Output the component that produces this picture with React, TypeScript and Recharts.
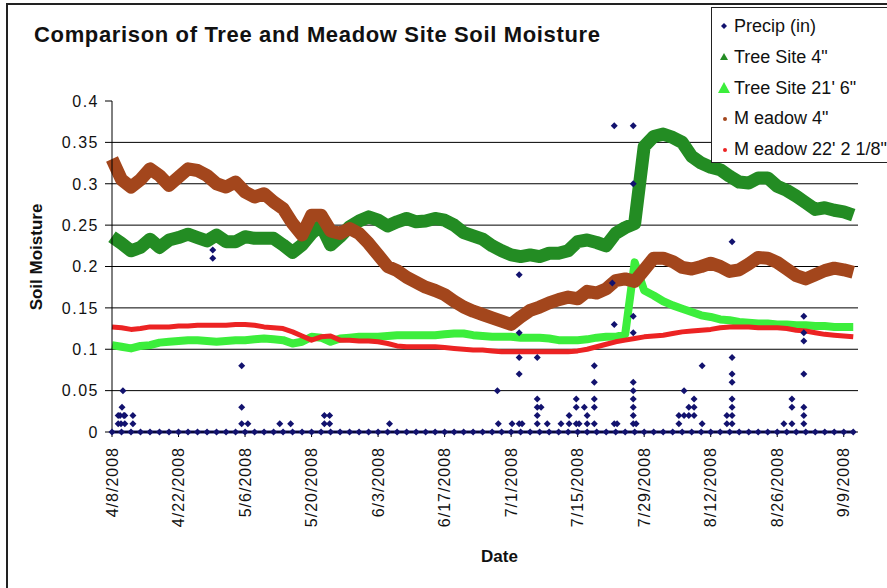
import { ComposedChart, Line, Scatter, XAxis, YAxis, ReferenceLine } from 'recharts';

// days after 4/8/2008 (every 2nd day)
const days = [
  0, 2, 4, 6, 8, 10, 12, 14, 16, 18, 20, 22, 24, 26, 28, 30, 32, 34, 36, 38,
  40, 42, 44, 46, 48, 50, 52, 54, 56, 58, 60, 62, 64, 66, 68, 70, 72, 74, 76, 78,
  80, 82, 84, 86, 88, 90, 92, 94, 96, 98, 100, 102, 104, 106, 108, 110, 112, 114, 116, 118,
  120, 122, 124, 126, 128, 130, 132, 134, 136, 138, 140, 142, 144, 146, 148, 150, 152, 154, 156,
];

const tree4 = [
  0.236, 0.228, 0.219, 0.223, 0.233, 0.223, 0.232, 0.235, 0.239, 0.235, 0.231, 0.238, 0.23, 0.23, 0.236, 0.234, 0.234, 0.234, 0.226, 0.217,
  0.226, 0.24, 0.25, 0.226, 0.236, 0.248, 0.255, 0.26, 0.256, 0.249, 0.254, 0.258, 0.254, 0.255, 0.258, 0.256, 0.25, 0.241, 0.237, 0.233,
  0.225, 0.219, 0.214, 0.212, 0.214, 0.212, 0.216, 0.216, 0.219, 0.23, 0.232, 0.229, 0.225, 0.24, 0.247, 0.252, 0.345, 0.357, 0.36, 0.356,
  0.35, 0.333, 0.325, 0.32, 0.317, 0.309, 0.302, 0.301, 0.307, 0.307, 0.297, 0.292, 0.285, 0.277, 0.269, 0.271, 0.268, 0.266, 0.262,
];

const tree21 = [
  0.105, 0.103, 0.101, 0.104, 0.105, 0.108, 0.109, 0.11, 0.111, 0.111, 0.11, 0.109, 0.11, 0.111, 0.111, 0.112, 0.113, 0.112, 0.111, 0.107,
  0.109, 0.115, 0.114, 0.109, 0.113, 0.114, 0.115, 0.115, 0.115, 0.116, 0.117, 0.117, 0.117, 0.117, 0.117, 0.118, 0.119, 0.119, 0.117, 0.116,
  0.115, 0.115, 0.115, 0.114, 0.114, 0.114, 0.113, 0.111, 0.111, 0.111, 0.112, 0.114, 0.115, 0.115, 0.118, 0.205, 0.171, 0.165, 0.158, 0.153,
  0.149, 0.145, 0.141, 0.139, 0.136, 0.135, 0.133, 0.132, 0.131, 0.131, 0.13, 0.13, 0.129, 0.129, 0.128, 0.128, 0.127, 0.127, 0.127,
];

const meadow4 = [
  0.33, 0.305, 0.296, 0.305, 0.318, 0.31, 0.298, 0.308, 0.318, 0.316, 0.31, 0.3, 0.296, 0.302, 0.29, 0.284, 0.288, 0.278, 0.27, 0.252,
  0.238, 0.262, 0.262, 0.243, 0.24, 0.246, 0.24, 0.228, 0.214, 0.2, 0.195, 0.187, 0.181, 0.175, 0.171, 0.166, 0.158, 0.151, 0.146, 0.142,
  0.138, 0.134, 0.13, 0.139, 0.147, 0.151, 0.156, 0.16, 0.163, 0.161, 0.17, 0.168, 0.173, 0.183, 0.185, 0.182, 0.196, 0.21, 0.21, 0.206,
  0.199, 0.197, 0.2, 0.204, 0.2, 0.194, 0.196, 0.203, 0.211, 0.21, 0.205, 0.197, 0.189, 0.185, 0.19, 0.195, 0.198, 0.196, 0.193,
];

const meadow22 = [
  0.127, 0.126, 0.124, 0.125, 0.127, 0.127, 0.127, 0.128, 0.128, 0.129, 0.129, 0.129, 0.129, 0.13, 0.13, 0.129, 0.127, 0.126, 0.125, 0.121,
  0.116, 0.111, 0.115, 0.116, 0.111, 0.111, 0.11, 0.11, 0.109, 0.107, 0.104, 0.103, 0.103, 0.103, 0.103, 0.102, 0.101, 0.1, 0.099, 0.099,
  0.098, 0.097, 0.097, 0.097, 0.097, 0.097, 0.097, 0.097, 0.097, 0.098, 0.1, 0.103, 0.106, 0.109, 0.111, 0.113, 0.115, 0.116, 0.117, 0.119,
  0.121, 0.122, 0.123, 0.124, 0.126, 0.127, 0.127, 0.127, 0.126, 0.126, 0.126, 0.125, 0.123, 0.122, 0.12, 0.118, 0.117, 0.116, 0.115,
];

// hourly precip readings above zero: [day, inches]
const precipEvents: [number, number][] = [
  [1.3, 0.01], [1.3, 0.02], [1.7, 0.02], [1.9, 0.01], [2.1, 0.03], [2.3, 0.05], [2.5, 0.02], [2.7, 0.01], [2.7, 0.02],
  [4.4, 0.02], [4.4, 0.01],
  [21.2, 0.21], [21.2, 0.22],
  [27.3, 0.08], [27.3, 0.03], [27.3, 0.01], [28.6, 0.01],
  [35.3, 0.01], [37.6, 0.01],
  [44.7, 0.02], [44.7, 0.01], [45.8, 0.02], [45.8, 0.01],
  [58.4, 0.01],
  [81.1, 0.05], [81.3, 0.01], [84.2, 0.01],
  [85.7, 0.19], [85.7, 0.12], [85.7, 0.09], [85.7, 0.07], [85.7, 0.01], [86.3, 0.01],
  [89.5, 0.09], [89.5, 0.04], [89.5, 0.03], [89.5, 0.02], [89.5, 0.01], [90.3, 0.03], [91.6, 0.01],
  [94.5, 0.01], [96.2, 0.02], [96.2, 0.01], [97.7, 0.04], [97.7, 0.03], [97.7, 0.01], [98.3, 0.01],
  [99.4, 0.03], [100, 0.02], [100, 0.01],
  [101.5, 0.08], [101.5, 0.06], [101.5, 0.04], [101.5, 0.03], [101.5, 0.01],
  [105.3, 0.18], [105.7, 0.37], [105.7, 0.13], [105.7, 0.01], [106.3, 0.01],
  [109.7, 0.37], [109.7, 0.3], [109.7, 0.14], [109.7, 0.12], [109.7, 0.06], [109.7, 0.05], [109.7, 0.04],
  [109.7, 0.03], [109.7, 0.02], [109.7, 0.01], [110.3, 0.01],
  [119.3, 0.02], [119.3, 0.01], [120.4, 0.05], [120.4, 0.02], [121.4, 0.03], [121.4, 0.02],
  [122.5, 0.04], [122.5, 0.03], [122.5, 0.02],
  [124.2, 0.08], [124.2, 0.01], [129.4, 0.02], [129.4, 0.01],
  [130.5, 0.23], [130.5, 0.09], [130.5, 0.07], [130.5, 0.06], [130.5, 0.04], [130.5, 0.03], [130.5, 0.02], [130.5, 0.01],
  [141.4, 0.01], [143.1, 0.04], [143.1, 0.03], [143.1, 0.01],
  [145.6, 0.14], [145.6, 0.12], [145.6, 0.11], [145.6, 0.07], [145.6, 0.03], [145.6, 0.02], [145.6, 0.01],
];

const xTickDays = [0, 14, 28, 42, 56, 70, 84, 98, 112, 126, 140, 154];
const xTickLabels = [
  '4/8/2008', '4/22/2008', '5/6/2008', '5/20/2008', '6/3/2008', '6/17/2008',
  '7/1/2008', '7/15/2008', '7/29/2008', '8/12/2008', '8/26/2008', '9/9/2008',
];
const yTicks = [0, 0.05, 0.1, 0.15, 0.2, 0.25, 0.3, 0.35, 0.4];
const yTickLabels = ['0', '0.05', '0.1', '0.15', '0.2', '0.25', '0.3', '0.35', '0.4'];
const gridLines = [0.05, 0.1, 0.15, 0.2, 0.25, 0.3, 0.35];

const C = {
  precip: '#12126e',
  tree4: '#238c23',
  tree21: '#3cee3c',
  meadow4: '#a3461c',
  meadow22: '#ec2323',
};

const FONT = '"Liberation Sans", Arial, sans-serif';

// the sampled days all had zero precip except for the events listed above
const rows = days.map((t, i) => ({
  t,
  precip0: 0,
  tree4: tree4[i],
  tree21: tree21[i],
  meadow4: meadow4[i],
  meadow22: meadow22[i],
}));
const precipRows = precipEvents.map(([t, p]) => ({ t, p }));

const legendItems = [
  { name: 'Precip (in)', color: C.precip, mark: 'diamond' },
  { name: 'Tree Site 4"', color: C.tree4, mark: 'tri' },
  { name: 'Tree Site 21\' 6"', color: C.tree21, mark: 'bigtri' },
  { name: 'M eadow 4"', color: C.meadow4, mark: 'dot' },
  { name: 'M eadow 22\' 2 1/8"', color: C.meadow22, mark: 'dot' },
];

function Diamond(props: any) {
  const { cx, cy } = props;
  if (cx == null || cy == null) return null;
  const r = 3.5;
  return <polygon key={`${cx}-${cy}`} points={`${cx},${cy - r} ${cx + r},${cy} ${cx},${cy + r} ${cx - r},${cy}`} fill={C.precip} />;
}

function XTick({ x, y, payload }: any) {
  const i = xTickDays.indexOf(payload.value);
  const yy = y + 8;
  return (
    <text
      x={x}
      y={yy}
      transform={`rotate(-90 ${x} ${yy})`}
      textAnchor="end"
      dy="0.36em"
      fontSize={16}
      letterSpacing={1}
      fill="#111"
      fontFamily={FONT}
    >
      {xTickLabels[i]}
    </text>
  );
}

function YTick({ x, y, payload }: any) {
  const i = yTicks.indexOf(payload.value);
  return (
    <text x={x - 4} y={y} textAnchor="end" dy="0.36em" fontSize={16} letterSpacing={1.5} fill="#111" fontFamily={FONT}>
      {yTickLabels[i]}
    </text>
  );
}

function LegendMark({ mark, color }: { mark: string; color: string }) {
  return (
    <svg width={14} height={14} style={{ position: 'absolute', left: -17, top: 3 }}>
      {mark === 'diamond' && <polygon points="7,4 10,7 7,10 4,7" fill={color} />}
      {mark === 'tri' && <polygon points="7,3 11,10 3,10" fill={color} />}
      {mark === 'bigtri' && <polygon points="7,1 13,12 1,12" fill={color} />}
      {mark === 'dot' && <circle cx={8} cy={8} r={2} fill={color} />}
    </svg>
  );
}

export default function App() {
  return (
    <div
      style={{
        position: 'fixed',
        left: 0,
        top: 0,
        width: 887,
        height: 588,
        background: '#fff',
        overflow: 'hidden',
        fontFamily: FONT,
      }}
    >
      {/* marco exterior */}
      <div style={{ position: 'absolute', left: 6, top: 3, width: 900, height: 620, border: '2px solid #222' }} />

      <div style={{ position: 'absolute', left: 34, top: 24, fontSize: 22, lineHeight: '22px', fontWeight: 'bold', letterSpacing: 0.65, color: '#111' }}>
        Comparison of Tree and Meadow Site Soil Moisture
      </div>

      <ComposedChart
        width={887}
        height={588}
        data={rows}
        margin={{ top: 101, right: 29, bottom: 66, left: 52 }}
        style={{ position: 'absolute', left: 0, top: 0 }}
      >
        <XAxis
          dataKey="t"
          type="number"
          domain={[0, 157]}
          ticks={xTickDays}
          interval={0}
          tick={<XTick />}
          height={90}
          tickSize={5}
          stroke="#000"
        />
        <YAxis
          type="number"
          domain={[0, 0.4]}
          ticks={yTicks}
          interval={0}
          tick={<YTick />}
          width={60}
          tickSize={7}
          stroke="#000"
        />
        {gridLines.map(v => (
          <ReferenceLine key={v} y={v} stroke="#000" strokeWidth={1} />
        ))}
        <Line dataKey="tree4" stroke={C.tree4} strokeWidth={13} strokeLinejoin="round" dot={false} isAnimationActive={false} />
        <Line dataKey="tree21" stroke={C.tree21} strokeWidth={8} strokeLinejoin="round" dot={false} isAnimationActive={false} />
        <Line dataKey="meadow4" stroke={C.meadow4} strokeWidth={13} strokeLinejoin="round" dot={false} isAnimationActive={false} />
        <Line dataKey="meadow22" stroke={C.meadow22} strokeWidth={5} strokeLinejoin="round" dot={false} isAnimationActive={false} />
        <Line dataKey="precip0" stroke={C.precip} strokeWidth={3} dot={<Diamond />} isAnimationActive={false} />
        <Scatter data={precipRows} dataKey="p" shape={Diamond} isAnimationActive={false} />
      </ComposedChart>

      <div
        style={{
          position: 'absolute',
          left: 37,
          top: 257,
          transform: 'translate(-50%, -50%) rotate(-90deg)',
          fontSize: 17,
          fontWeight: 'bold',
          whiteSpace: 'nowrap',
          color: '#111',
        }}
      >
        Soil Moisture
      </div>
      <div style={{ position: 'absolute', left: 481, top: 547, fontSize: 17, fontWeight: 'bold', color: '#111' }}>Date</div>

      {/* leyenda */}
      <div
        style={{
          position: 'absolute',
          left: 711,
          top: 7,
          width: 200,
          height: 154,
          background: '#fff',
          border: '1.5px solid #222',
        }}
      >
        {legendItems.map((it, i) => (
          <div
            key={it.name}
            style={{
              position: 'absolute',
              left: 22,
              top: 8 + i * 30.8,
              fontSize: 18,
              lineHeight: '20px',
              color: '#111',
              whiteSpace: 'nowrap',
            }}
          >
            <LegendMark mark={it.mark} color={it.color} />
            {it.name}
          </div>
        ))}
      </div>
    </div>
  );
}
